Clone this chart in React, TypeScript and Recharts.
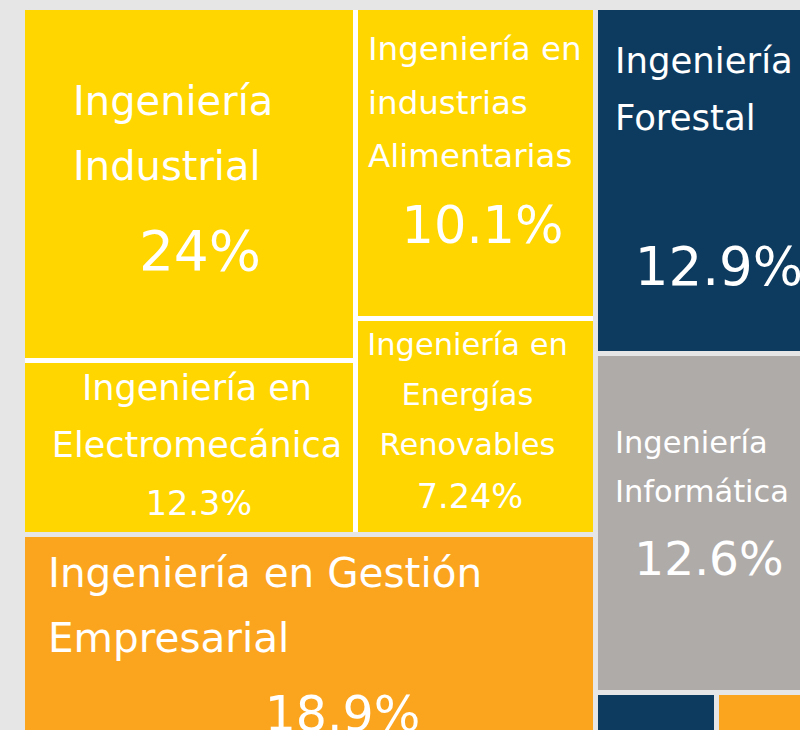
import { Treemap } from "recharts";

const careers = [
  "Ingeniería Industrial",
  "Ingeniería en Electromecánica",
  "Ingeniería en industrias Alimentarias",
  "Ingeniería en Energías Renovables",
  "Ingeniería en Gestión Empresarial",
  "Ingeniería Forestal",
  "Ingeniería Informática",
  "Otra carrera 1",
  "Otra carrera 2",
];
// tile sizes, estimated from the tile areas in the picture
const tileSizes = [117.5, 58.0, 74.6, 52.0, 128.9, 82.7, 81.0, 8.1, 7.9];
// percentages printed on the tiles
const shares = ["24%", "12.3%", "10.1%", "7.24%", "18.9%", "12.9%", "12.6%", "", ""];
// colour group of each career
const groups = ["A", "A", "A", "A", "B", "C", "D", "C", "B"];

const groupColors: Record<string, string> = {
  A: "#FFD600",
  B: "#FBA51E",
  C: "#0D3B5F",
  D: "#AFABA9",
};

type LabelLayout = {
  wrap: number[]; // words per line
  fs: number;
  anchor: "start" | "middle";
  dx: number;
  dy: number;
  lh: number;
  pfs: number;
  pdx: number;
  pdy: number;
};

const labelLayout: Record<string, LabelLayout> = {
  "Ingeniería Industrial": { wrap: [1, 1], fs: 40, anchor: "start", dx: 50, dy: 107, lh: 65, pfs: 55, pdx: 177, pdy: 262 },
  "Ingeniería en Electromecánica": { wrap: [2, 1], fs: 35, anchor: "middle", dx: 174, dy: 39, lh: 57, pfs: 33.5, pdx: 176, pdy: 154 },
  "Ingeniería en industrias Alimentarias": { wrap: [2, 1, 1], fs: 32.5, anchor: "start", dx: 12, dy: 52, lh: 53.5, pfs: 51, pdx: 126.5, pdy: 235 },
  "Ingeniería en Energías Renovables": { wrap: [2, 1, 1], fs: 30.5, anchor: "middle", dx: 111.5, dy: 36, lh: 50, pfs: 33.5, pdx: 114, pdy: 189 },
  "Ingeniería en Gestión Empresarial": { wrap: [3, 1], fs: 40.5, anchor: "start", dx: 25, dy: 52, lh: 65, pfs: 49, pdx: 319.5, pdy: 196 },
  "Ingeniería Forestal": { wrap: [1, 1], fs: 35.5, anchor: "start", dx: 19, dy: 65, lh: 57, pfs: 53, pdx: 123, pdy: 277 },
  "Ingeniería Informática": { wrap: [1, 1], fs: 30.5, anchor: "start", dx: 19, dy: 99, lh: 49, pfs: 47, pdx: 113, pdy: 221 },
};

const leaves = careers.map((name, i) => ({
  name,
  size: tileSizes[i],
  share: shares[i],
  group: groups[i],
}));

const treeData = [
  { name: "A", group: "A", children: leaves.filter((l) => l.group === "A") },
  ...leaves.filter((l) => l.group !== "A"),
];

const FONT = "DejaVu Sans, sans-serif";

function renderTile(props: any) {
  const { x, y, width, height, depth, children, name, group, share } = props;
  if (!depth || width <= 0 || height <= 0) return null;
  const rx = x + 2;
  const ry = y + 2;
  const rw = Math.max(width - 5, 0);
  const rh = Math.max(height - 5, 0);

  if (children && children.length) {
    return <rect x={rx} y={ry} width={rw} height={rh} fill="#ffffff" />;
  }

  const layout = labelLayout[name];
  const lines: string[] = [];
  if (layout) {
    const words = String(name).split(" ");
    let k = 0;
    layout.wrap.forEach((n) => {
      lines.push(words.slice(k, k + n).join(" "));
      k += n;
    });
  }

  return (
    <g>
      <rect x={rx} y={ry} width={rw} height={rh} fill={groupColors[group]} />
      {layout &&
        lines.map((line, i) => (
          <text
            key={i}
            x={x + layout.dx}
            y={y + layout.dy + i * layout.lh}
            fill="#ffffff"
            fontSize={layout.fs}
            fontFamily={FONT}
            textAnchor={layout.anchor}
          >
            {line}
          </text>
        ))}
      {layout && share && (
        <text
          x={x + layout.pdx}
          y={y + layout.pdy}
          fill="#ffffff"
          fontSize={layout.pfs}
          fontFamily={FONT}
          textAnchor="middle"
        >
          {share}
        </text>
      )}
    </g>
  );
}

export default function App() {
  return (
    <div
      style={{
        position: "fixed",
        left: 0,
        top: 0,
        width: 800,
        height: 730,
        overflow: "hidden",
        background: "#E6E6E6",
      }}
    >
      <div style={{ position: "absolute", left: 23, top: 8 }}>
        <Treemap
          width={812}
          height={752}
          data={treeData}
          dataKey="size"
          content={renderTile}
          isAnimationActive={false}
        />
      </div>
    </div>
  );
}
